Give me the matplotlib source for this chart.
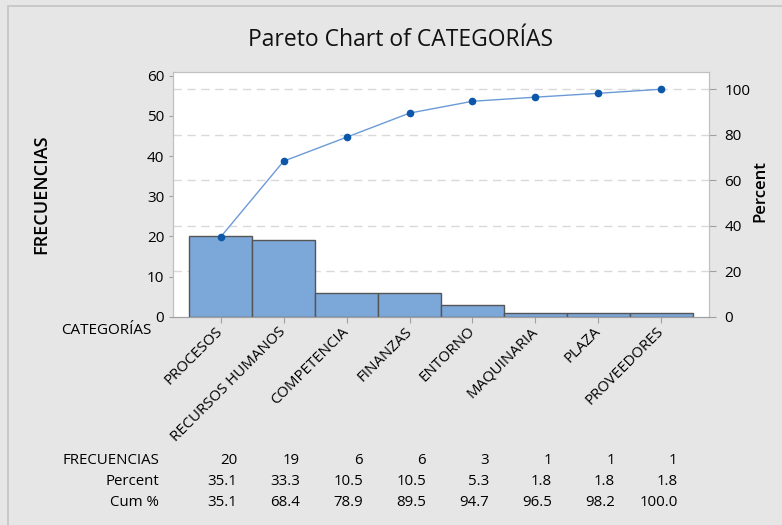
import numpy as np
import matplotlib
matplotlib.use('Agg')
from matplotlib import pyplot as plt
from matplotlib.patches import Rectangle
import matplotlib.transforms as mtransforms

plt.rcParams['font.family'] = ['Open Sans', 'DejaVu Sans']

categories = ['PROCESOS', 'RECURSOS HUMANOS', 'COMPETENCIA', 'FINANZAS',
              'ENTORNO', 'MAQUINARIA', 'PLAZA', 'PROVEEDORES']
frecuencias = [20, 19, 6, 6, 3, 1, 1, 1]
percent = [35.1, 33.3, 10.5, 10.5, 5.3, 1.8, 1.8, 1.8]
cum_pct = [35.1, 68.4, 78.9, 89.5, 94.7, 96.5, 98.2, 100.0]
row_labels = ['FRECUENCIAS', 'Percent', 'Cum %']

W, H = 782, 525
fig = plt.figure(figsize=(W / 100, H / 100), dpi=100, facecolor='#e6e6e6')

# light frame of the screenshot (top and left edges only)
fig.patches.append(Rectangle((8 / W, -0.1), 1.2, 1.1 - 6 / H, transform=fig.transFigure,
                             fill=False, edgecolor='#c4c4c4', linewidth=1.2))

ax = fig.add_axes([172.7 / W, 1 - 316.7 / H, 536.6 / W, 245 / H])
ax.set_facecolor('white')
ax2 = ax.twinx()

x = np.arange(len(categories))

# dashed grid at the percent ticks, behind the bars
grid_tr = mtransforms.blended_transform_factory(ax.transAxes, ax2.transData)
for v in [20, 40, 60, 80, 100]:
    ax.plot([0, 1], [v, v], transform=grid_tr, color='#d9d9d9', lw=1,
            ls=(0, (6, 4)), zorder=0.5)

ax.bar(x, frecuencias, width=1.0, color='#7ca7d9', edgecolor='#555555',
       linewidth=1, zorder=2)
ax2.plot(x, cum_pct, color='#6b9bd6', lw=1.0, marker='o', ms=4.5,
         mfc='#0d57a8', mec='#0d57a8', zorder=3)

ax.set_xlim(-0.764, 7.764)
ax.set_ylim(0, 61)
ax2.set_ylim(0, 107.7)
ax.set_yticks(range(0, 61, 10))
ax2.set_yticks(range(0, 101, 20))

for a in (ax, ax2):
    for s in a.spines.values():
        s.set_color('#c0c0c0')
    a.spines['bottom'].set_color('#a0a0a0')

ax.tick_params(axis='y', length=3, color='#a0a0a0', labelsize=11, pad=3)
ax2.tick_params(axis='y', length=5, color='#a0a0a0', labelsize=11, pad=6)
ax.set_xticks(x)
ax.set_xticklabels(categories, rotation=45, ha='right', va='center',
                   rotation_mode='anchor', fontsize=10.8)
ax.tick_params(axis='x', length=4, color='#a0a0a0', pad=5)

fig.text(400 / W, 1 - 40 / H, 'Pareto Chart of CATEGORÍAS', ha='center',
         va='center', fontsize=16.5, color='#111111')
fig.text(41 / W, 1 - 194 / H, 'FRECUENCIAS', rotation=90, ha='center',
         va='center', fontsize=13, fontweight='semibold')
fig.text(760 / W, 1 - 191 / H, 'Percent', rotation=90, ha='center',
         va='center', fontsize=12, fontweight='semibold')
fig.text(152 / W, 1 - 330 / H, 'CATEGORÍAS', ha='right', va='center',
         fontsize=11)

# summary table under the chart
rows = [[str(v) for v in frecuencias],
        ['%.1f' % v for v in percent],
        ['%.1f' % v for v in cum_pct]]
row_y = [460, 481.5, 502.5]
tab_tr = mtransforms.blended_transform_factory(ax.transData, fig.transFigure)
for lab, vals, yy in zip(row_labels, rows, row_y):
    fig.text(159 / W, 1 - yy / H, lab, ha='right', va='center', fontsize=10.8)
    for i, s in enumerate(vals):
        fig.text(i + 0.26, 1 - yy / H, s, transform=tab_tr, ha='right',
                 va='center', fontsize=10.8)

fig.savefig('out.png', dpi=100, facecolor=fig.get_facecolor())
